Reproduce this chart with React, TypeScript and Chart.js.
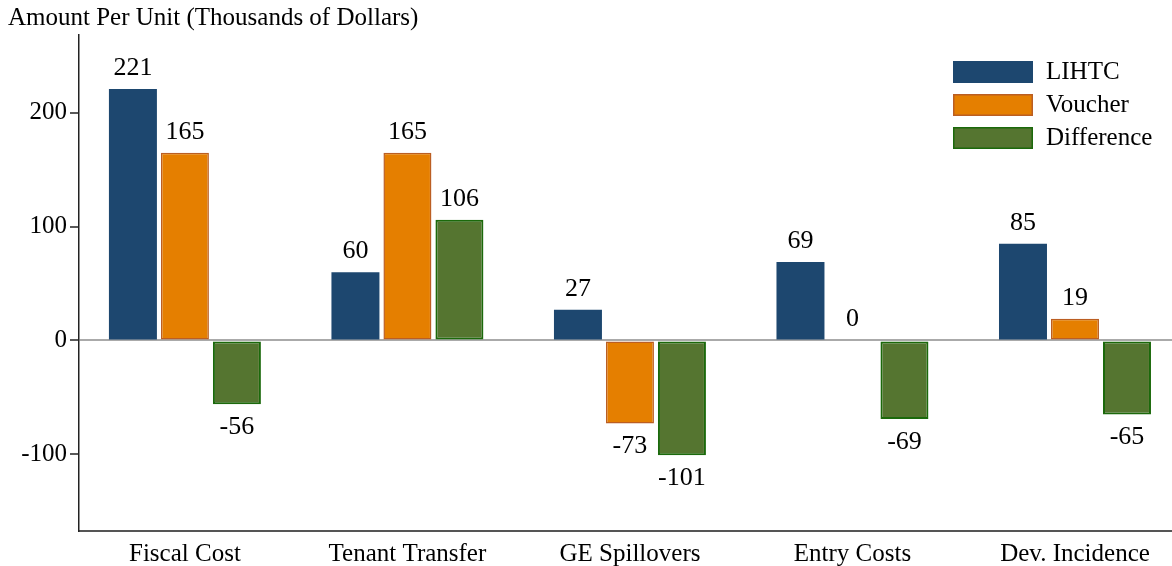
import React, { useEffect, useRef } from 'react';
import { Chart, registerables } from 'chart.js';
Chart.register(...registerables);

const categories = ['Fiscal Cost', 'Tenant Transfer', 'GE Spillovers', 'Entry Costs', 'Dev. Incidence'];
const lihtc = [221, 60, 27, 69, 85];
const voucher = [165, 165, -73, 0, 19];
const difference = [-56, 106, -101, -69, -65];
const yTicks = [200, 100, 0, -100];
const seriesNames = ['LIHTC', 'Voucher', 'Difference'];
const titleText = 'Amount Per Unit (Thousands of Dollars)';

const FONT = '"Liberation Serif", "Times New Roman", serif';
const FILLS = ['#1d476f', '#e57f00', '#557530'];
const BORDERS = ['#1d476f', '#bb5e22', '#1b690b'];

const overlay = {
  id: 'overlay',
  afterDatasetsDraw(chart: any) {
    const ctx = chart.ctx;
    ctx.save();
    ctx.font = `26px ${FONT}`;
    ctx.fillStyle = '#000';
    ctx.textAlign = 'center';
    ctx.textBaseline = 'middle';
    chart.data.datasets.forEach((ds: any, di: number) => {
      const meta = chart.getDatasetMeta(di);
      meta.data.forEach((bar: any, i: number) => {
        const v = ds.data[i];
        const y = v >= 0 ? bar.y - 21 : bar.y + 23;
        ctx.fillText(String(v), bar.x, y);
      });
    });
    // legend
    ctx.font = `25px ${FONT}`;
    ctx.textAlign = 'left';
    seriesNames.forEach((name, i) => {
      const y = 61 + i * 33;
      ctx.fillStyle = FILLS[i];
      ctx.fillRect(953, y, 80, 22);
      if (i > 0) {
        ctx.strokeStyle = BORDERS[i];
        ctx.lineWidth = 1.5;
        ctx.strokeRect(953.75, y + 0.75, 78.5, 20.5);
      }
      ctx.fillStyle = '#000';
      ctx.fillText(name, 1046, y + 11);
    });
    // title
    ctx.font = `25px ${FONT}`;
    ctx.fillText(titleText, 8, 18);
    ctx.restore();
  },
};

export default function App() {
  const ref = useRef<HTMLCanvasElement>(null);
  useEffect(() => {
    if (!ref.current) return;
    const series = [lihtc, voucher, difference];
    const chart = new Chart(ref.current, {
      type: 'bar',
      data: {
        labels: categories,
        datasets: series.map((d, i) => ({
          label: seriesNames[i],
          data: d,
          backgroundColor: FILLS[i],
          borderColor: BORDERS[i],
          borderWidth: i === 0 ? 0 : (i === 1 ? 1.5 : 2),
          borderSkipped: false,
          barPercentage: 0.923,
          categoryPercentage: 0.701,
        })),
      },
      options: {
        responsive: false,
        animation: false,
        layout: { padding: { top: 35, left: 0, right: 0, bottom: 0 } },
        plugins: { legend: { display: false }, title: { display: false }, tooltip: { enabled: false } },
        scales: {
          x: {
            offset: true,
            grid: { display: false },
            border: { display: true, color: '#555', width: 2 },
            ticks: { color: '#000', font: { family: FONT, size: 25 }, padding: 0 },
            afterFit: (s: any) => { s.height = 35; },
            afterBuildTicks: (s: any) => { s._startValue = -0.476; s._valueRange = 4.912; },
          },
          y: {
            min: -167.5,
            max: 268.5,
            afterBuildTicks: (s: any) => { s.ticks = yTicks.map((v) => ({ value: v })); },
            afterFit: (s: any) => { s.width = 79; },
            grid: {
              drawOnChartArea: true,
              color: (c: any) => (c.tick && c.tick.value === 0 ? '#aaaaaa' : 'rgba(0,0,0,0)'),
              tickColor: '#222',
              tickLength: 9,
              tickWidth: 1.5,
              lineWidth: 2,
            },
            border: { display: true, color: '#222', width: 1.5 },
            ticks: { color: '#000', font: { family: FONT, size: 25 }, padding: 3 },
          },
        },
      },
      plugins: [overlay],
    });
    return () => chart.destroy();
  }, []);
  return (
    <div style={{ position: 'fixed', left: 0, top: 0, width: 1172, height: 566, background: '#fff' }}>
      <canvas ref={ref} width={1172} height={566} style={{ display: 'block' }} />
    </div>
  );
}
